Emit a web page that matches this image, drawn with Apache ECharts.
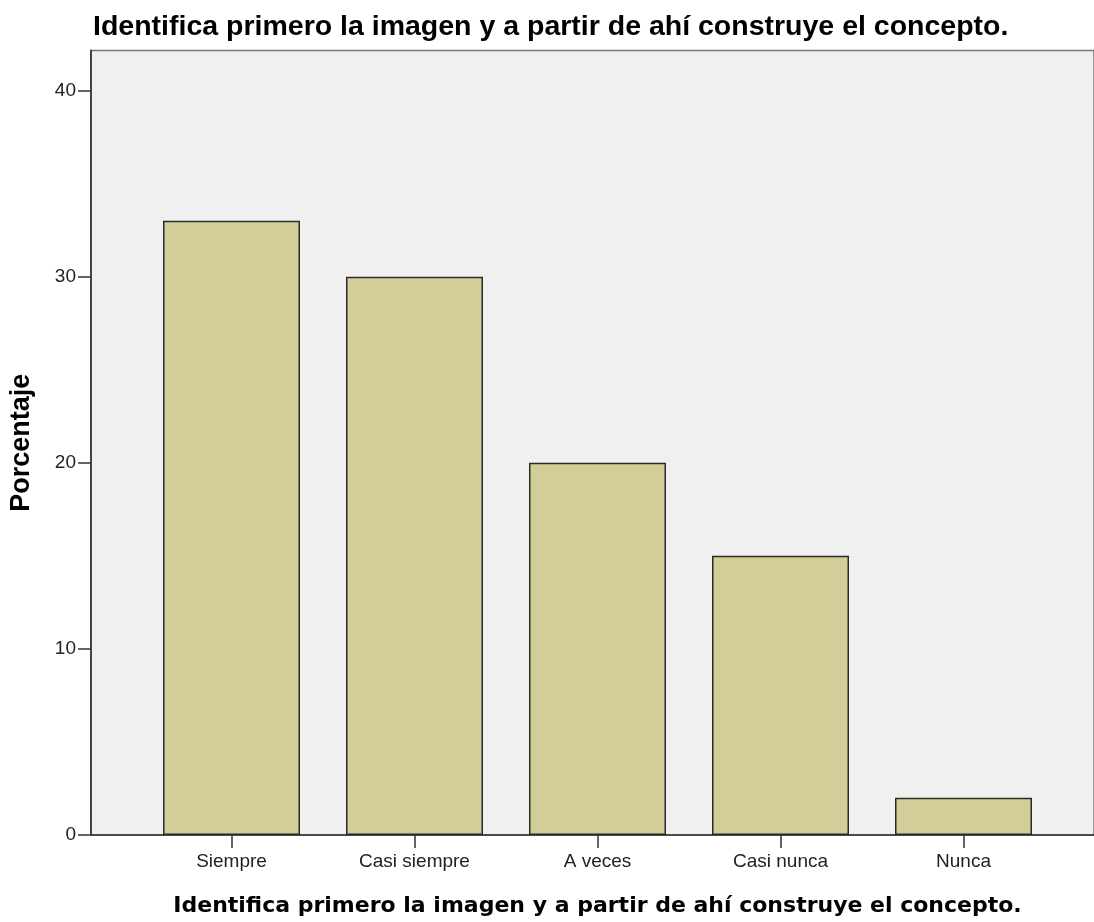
<!DOCTYPE html>
<html>
<head>
<meta charset="utf-8">
<script src="https://cdn.jsdelivr.net/npm/echarts@6/dist/echarts.min.js"></script>
<style>
  html, body { margin: 0; padding: 0; background: #fff; }
  #chart { width: 1094px; height: 922px; }
</style>
</head>
<body>
<div id="chart"></div>
<script>
// respuestas
const categorias = ['Siempre', 'Casi siempre', 'A veces', 'Casi nunca', 'Nunca'];
const porcentajes = [33, 30, 20, 15, 2];
const yTicks = [0, 10, 20, 30, 40];

const titulo = 'Identifica primero la imagen y a partir de ahí construye el concepto.';
const yMax = 42.15;

const chart = echarts.init(document.getElementById('chart'));

const option = {
    animation: false,
    title: {
        text: titulo,
        left: 88,
        top: 8,
        textStyle: {
            fontFamily: 'Liberation Sans',
            fontSize: 28.5,
            fontWeight: 'bold',
            color: '#000'
        }
    },
    grid: [
        // fondo gris + ejes
        {
            left: 90, right: -2, top: 50.5, bottom: 87,
            show: true,
            backgroundColor: '#f0f0f0',
            borderColor: '#777',
            borderWidth: 1.5
        },
        // barras
        { left: 140, right: 39, top: 50.5, bottom: 87 }
    ],
    xAxis: [
        {
            gridIndex: 0, type: 'value', min: 0, max: 1,
            axisLine: { show: true, onZero: false, lineStyle: { color: '#333', width: 1.5 } },
            axisTick: { show: false }, axisLabel: { show: false }, splitLine: { show: false }
        },
        {
            gridIndex: 1, type: 'category', data: categorias,
            axisLine: { show: false },
            axisTick: { show: true, alignWithLabel: true, length: 13, lineStyle: { color: '#333', width: 1.5 } },
            axisLabel: {
                margin: 17,
                fontFamily: 'Liberation Sans', fontSize: 19, color: '#222'
            },
            name: titulo,
            nameLocation: 'middle',
            nameGap: 60,
            nameTextStyle: {
                fontFamily: 'DejaVu Sans', fontSize: 22, fontWeight: 'bold', color: '#000'
            }
        }
    ],
    yAxis: [
        {
            gridIndex: 0, type: 'value', min: 0, max: yMax, interval: 10,
            axisLine: { show: true, lineStyle: { color: '#444', width: 2 } },
            axisTick: { show: true, length: 13, customValues: yTicks, lineStyle: { color: '#333', width: 1.5 } },
            axisLabel: {
                margin: 15,
                customValues: yTicks,
                fontFamily: 'Liberation Sans', fontSize: 19, color: '#222'
            },
            splitLine: { show: false },
            name: 'Porcentaje',
            nameLocation: 'middle',
            nameGap: 56,
            nameTextStyle: {
                fontFamily: 'Liberation Sans', fontSize: 27, fontWeight: 'bold', color: '#000'
            }
        },
        {
            gridIndex: 1, type: 'value', min: 0, max: yMax,
            show: false
        }
    ],
    series: [{
        type: 'bar',
        xAxisIndex: 1,
        yAxisIndex: 1,
        data: porcentajes,
        barWidth: 137,
        itemStyle: {
            color: '#d3ce97',
            borderColor: '#2a2a2a',
            borderWidth: 1.5
        }
    }]
};

chart.setOption(option);
</script>
</body>
</html>
